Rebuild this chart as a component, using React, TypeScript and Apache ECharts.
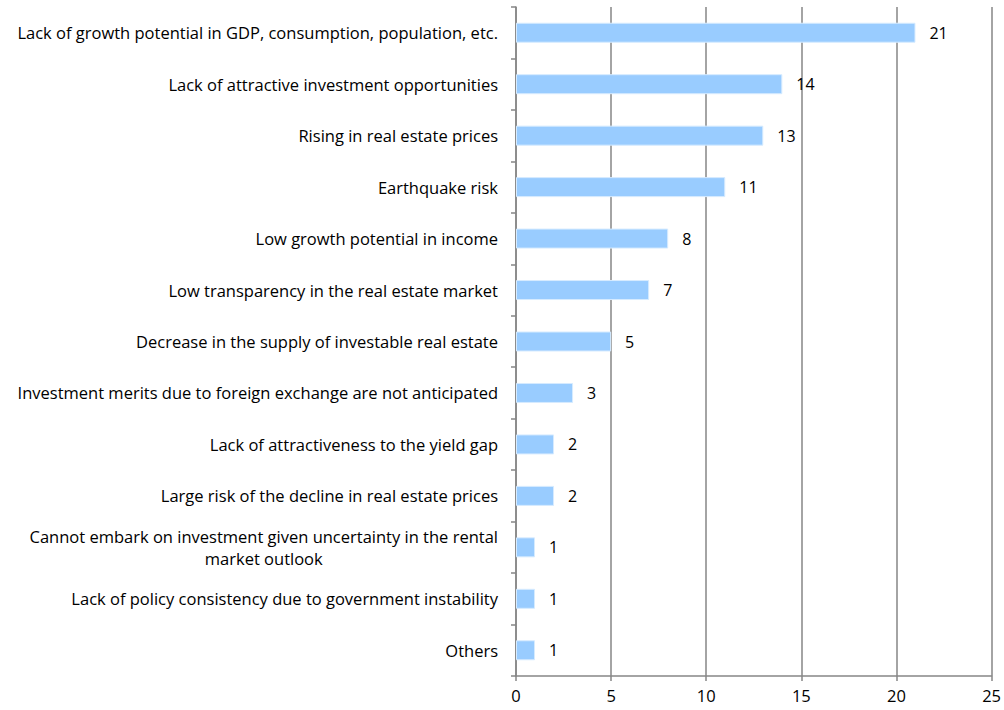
import React, { useEffect, useRef } from "react";
import * as echarts from "echarts";

const categories: string[] = [
  "Lack of growth potential in GDP, consumption, population, etc.",
  "Lack of attractive investment opportunities",
  "Rising in real estate prices",
  "Earthquake risk",
  "Low growth potential in income",
  "Low transparency in the real estate market",
  "Decrease in the supply of investable real estate",
  "Investment merits due to foreign exchange are not anticipated",
  "Lack of attractiveness to the yield gap",
  "Large risk of the decline in real estate prices",
  "Cannot embark on investment given uncertainty in the rental\nmarket outlook",
  "Lack of policy consistency due to government instability",
  "Others",
];

const values: number[] = [21, 14, 13, 11, 8, 7, 5, 3, 2, 2, 1, 1, 1];

const xTicks = { min: 0, max: 25, interval: 5 };

const FONT = "'Open Sans', 'Noto Sans', sans-serif";
const FS = 16.5;

export default function App() {
  const ref = useRef<HTMLDivElement>(null);
  useEffect(() => {
    if (!ref.current) return;
    const chart = echarts.init(ref.current, undefined, { renderer: "svg" });
    const cats = [...categories].reverse();
    const vals = [...values].reverse();
    chart.setOption({
      animation: false,
      backgroundColor: "#ffffff",
      grid: { left: 516, right: 12, top: 7, bottom: 34, containLabel: false },
      xAxis: {
        type: "value",
        min: xTicks.min,
        max: xTicks.max,
        interval: xTicks.interval,
        axisLine: { show: true, lineStyle: { color: "#868686", width: 1.5 } },
        axisTick: { show: true, length: 5, lineStyle: { color: "#868686", width: 1.5 } },
        axisLabel: { color: "#000", fontFamily: FONT, fontSize: 16.5, margin: 11 },
        splitLine: { show: true, lineStyle: { color: "#868686", width: 1.5 } },
      },
      yAxis: {
        type: "category",
        data: cats,
        axisLine: { show: true, lineStyle: { color: "#868686", width: 1.5 } },
        axisTick: { show: true, length: 5, lineStyle: { color: "#868686", width: 1.5 } },
        axisLabel: {
          color: "#000",
          fontFamily: FONT,
          fontSize: FS,
          margin: 18,
          lineHeight: 22,
          formatter: (v: string) =>
            v
              .split("\n")
              .map((l) => "{c|" + l + "}")
              .join("\n"),
          rich: {
            c: {
              align: "center",
              color: "#000",
              fontFamily: FONT,
              fontSize: FS,
              lineHeight: 22,
            },
          },
        },
        splitLine: { show: false },
      },
      series: [
        {
          type: "bar",
          data: vals,
          barWidth: 20,
          itemStyle: { color: "#99ccff", borderColor: "#d6ebff", borderWidth: 1 },
          label: {
            show: true,
            position: "right",
            distance: 14,
            color: "#000",
            fontFamily: FONT,
            fontSize: 16,
          },
        },
      ],
    });
    return () => chart.dispose();
  }, []);
  return (
    <div
      ref={ref}
      style={{ position: "fixed", left: 0, top: 0, width: 1004, height: 710 }}
    />
  );
}
